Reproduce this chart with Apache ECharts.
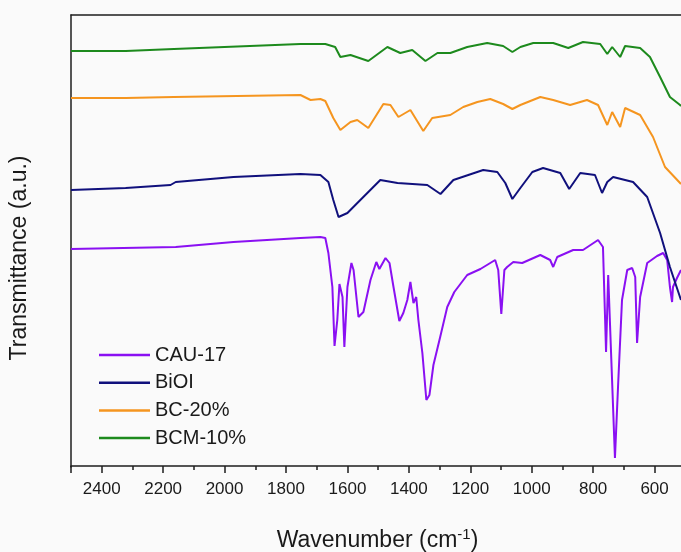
<!DOCTYPE html>
<html>
<head>
<meta charset="utf-8">
<script src="https://cdn.jsdelivr.net/npm/echarts@6/dist/echarts.min.js"></script>
<style>
  html, body { margin: 0; padding: 0; background: #fafafa; }
  #chart { width: 681px; height: 552px; }
</style>
</head>
<body>
<div id="chart"></div>
<script>
'use strict';

// series names, in legend order
var names = ['CAU-17', 'BiOI', 'BC-20%', 'BCM-10%'];
var colors = ['#8a10f2', '#10107c', '#f5951f', '#1d8a1d'];

// CAU-17: wavenumber (cm-1) / transmittance (a.u., offset)
var cauWn = [2500, 2159, 1971, 1753, 1688, 1672, 1662, 1649, 1642, 1633, 1626, 1616, 1610, 1600, 1587, 1580, 1564, 1548,
  1525, 1506, 1496, 1476, 1463, 1450, 1444, 1431, 1418, 1405, 1395, 1385, 1376, 1369, 1356, 1343, 1333, 1320, 1298, 1275,
  1252, 1210, 1167, 1119, 1109, 1099, 1089, 1080, 1060, 1031, 972, 940, 930, 917, 865, 833, 784, 768, 761, 758, 751, 745,
  729, 719, 706, 689, 673, 663, 657, 647, 624, 592, 572, 559, 550, 543, 540, 527, 514];
var cauT = [217, 219, 224, 228, 229, 228, 213, 179, 120, 146, 182, 169, 119, 179, 203, 196, 149, 154,
  186, 204, 197, 208, 203, 179, 178, 145, 153, 166, 184, 163, 169, 146, 113, 66, 71, 101, 129, 159,
  174, 191, 197, 206, 196, 152, 196, 199, 204, 203, 211, 206, 199, 209, 216, 216, 226, 219, 146, 114, 191, 189,
  8, 79, 166, 196, 198, 189, 123, 169, 203, 210, 213, 206, 179, 164, 179, 188, 196];

// BiOI
var bioiWn = [2500, 2322, 2176, 2159, 1971, 1753, 1688, 1662, 1646, 1629, 1600, 1558, 1493, 1437, 1340, 1297, 1255, 1158,
  1112, 1086, 1063, 1037, 998, 963, 907, 878, 842, 794, 771, 754, 735, 670, 624, 582, 550, 514];
var bioiT = [276, 278, 281, 284, 289, 292, 291, 284, 266, 249, 253, 266, 286, 283, 281, 272, 286, 296,
  294, 283, 267, 278, 294, 298, 293, 277, 293, 291, 273, 284, 289, 284, 269, 233, 199, 166];

// BC-20%
var bcWn = [2500, 2322, 2165, 2159, 1753, 1720, 1688, 1672, 1646, 1623, 1590, 1568, 1532, 1483, 1460, 1434, 1395, 1353,
  1324, 1265, 1223, 1177, 1135, 1093, 1063, 1037, 972, 930, 875, 820, 784, 754, 738, 712, 696, 647, 605, 566, 517, 514];
var bcT = [368, 368, 369, 370, 371, 366, 367, 365, 348, 336, 344, 346, 338, 362, 361, 349, 356, 335,
  348, 351, 359, 364, 367, 362, 357, 361, 369, 366, 361, 366, 361, 341, 354, 339, 358, 351, 329, 299, 283, 282];

// BCM-10%
var bcmWn = [2500, 2322, 2165, 2159, 1753, 1672, 1640, 1623, 1590, 1532, 1470, 1428, 1389, 1346, 1307, 1265, 1210, 1145,
  1093, 1063, 1037, 995, 930, 881, 833, 777, 754, 738, 712, 696, 647, 615, 582, 550, 517, 514];
var bcmT = [415, 415, 417, 419, 422, 422, 419, 409, 411, 405, 419, 413, 416, 405, 413, 413, 419, 423,
  420, 414, 419, 423, 423, 418, 424, 422, 412, 419, 409, 420, 418, 409, 389, 369, 361, 360];

// x axis ticks
var xMin = 400, xMax = 2500, xStep = 200;

function pairs(xs, ys) {
  var out = [];
  for (var i = 0; i < xs.length; i++) out.push([xs[i], ys[i]]);
  return out;
}

var allData = [pairs(cauWn, cauT), pairs(bioiWn, bioiT), pairs(bcWn, bcT), pairs(bcmWn, bcmT)];

var chart = echarts.init(document.getElementById('chart'), null, { renderer: 'canvas' });

var font = 'Liberation Sans, Arial, sans-serif';
var axisColor = '#1e1e1e';

var series = [];
for (var i = 0; i < names.length; i++) {
  series.push({
    name: names[i],
    type: 'line',
    data: allData[i],
    symbol: 'none',
    legendIcon: 'rect',
    color: colors[i],
    lineStyle: { width: 2, color: colors[i] },
    animation: false
  });
}

var option = {
  backgroundColor: '#fafafa',
  animation: false,
  grid: { left: 71, top: 15, width: 645, bottom: 85, outerBoundsMode: 'none', containLabel: false },
  legend: {
    orient: 'vertical',
    left: 99,
    top: 345,
    padding: 0,
    itemWidth: 51,
    itemHeight: 2.5,
    itemGap: 7.7,
    icon: 'rect',
    data: names,
    textStyle: { fontFamily: font, fontSize: 20, color: '#1a1a1a' }
  },
  xAxis: [{
    type: 'value',
    inverse: true,
    min: xMin,
    max: xMax,
    interval: xStep,
    axisLine: { show: true, lineStyle: { color: axisColor, width: 1.5 } },
    axisTick: { show: true, inside: false, length: 7, lineStyle: { color: axisColor, width: 1.5 } },
    minorTick: { show: true, splitNumber: 2, length: 4, lineStyle: { color: axisColor, width: 1.5 } },
    splitLine: { show: false },
    axisLabel: {
      margin: 14,
      fontFamily: font,
      fontSize: 17,
      color: '#1a1a1a',
      formatter: function (v) { return v % xStep === 0 ? String(v) : ''; }
    },
    name: '{a|Wavenumber (cm}{s|-1}{a|)}',
    nameLocation: 'middle',
    nameGap: 60,
    nameTextStyle: {
      padding: [0, 32, 0, 0],
      rich: {
        a: { fontFamily: font, fontSize: 23, color: '#1a1a1a' },
        s: { fontFamily: font, fontSize: 15, color: '#1a1a1a', verticalAlign: 'top', padding: [0, 0, 12, 0] }
      }
    }
  }, {
    type: 'value',
    position: 'top',
    inverse: true,
    min: xMin,
    max: xMax,
    axisLine: { show: true, lineStyle: { color: axisColor, width: 1.5 } },
    axisTick: { show: false },
    axisLabel: { show: false },
    splitLine: { show: false }
  }],
  yAxis: {
    type: 'value',
    min: -1,
    max: 451,
    axisLine: { show: true, lineStyle: { color: axisColor, width: 1.5 } },
    axisTick: { show: false },
    axisLabel: { show: false },
    splitLine: { show: false },
    name: 'Transmittance (a.u.)',
    nameLocation: 'middle',
    nameGap: 40,
    nameTextStyle: { fontFamily: font, fontSize: 23, color: '#1a1a1a', padding: [0, 34, 0, 0] }
  },
  series: series
};

chart.setOption(option);
</script>
</body>
</html>
